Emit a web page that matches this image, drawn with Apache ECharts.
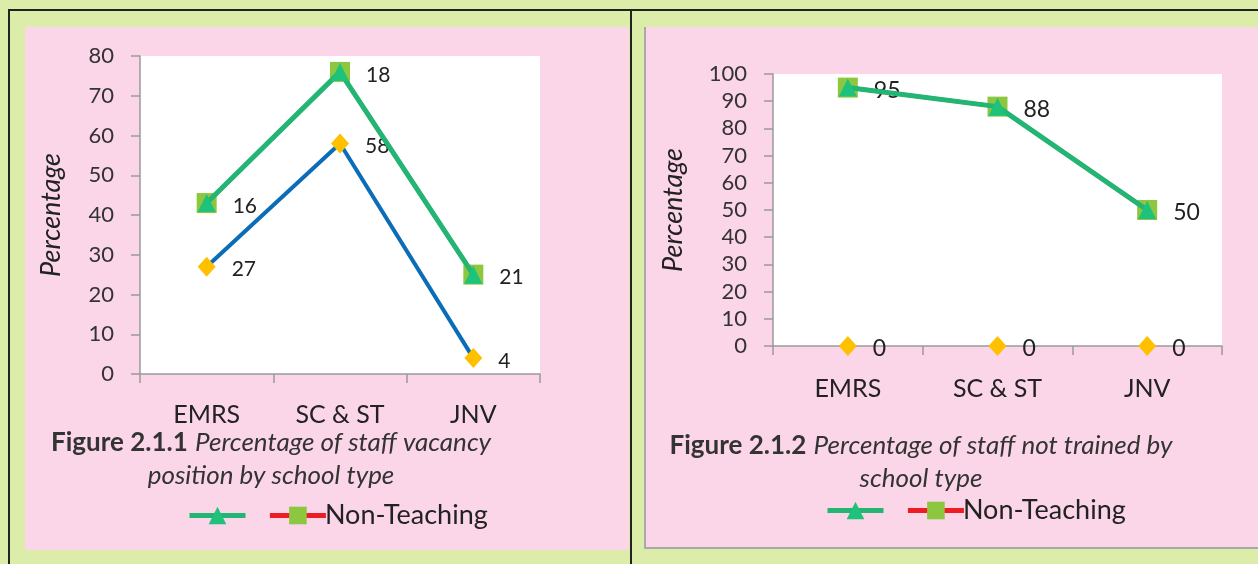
<!DOCTYPE html>
<html>
<head>
<meta charset="utf-8">
<script src="https://cdn.jsdelivr.net/npm/echarts@6/dist/echarts.min.js"></script>
<style>
  html, body { margin: 0; padding: 0; }
  body { width: 1258px; height: 564px; position: relative; background: #dcedaa; overflow: hidden; }
  .bd { position: absolute; background: #222; }
  .pink { position: absolute; background: #fad6e8; }
  #chart { position: absolute; left: 0; top: 0; width: 1258px; height: 564px; }
</style>
</head>
<body>
<div class="bd" style="left:8px;top:9px;width:1250px;height:1.5px;"></div>
<div class="bd" style="left:8px;top:9px;width:1.5px;height:555px;"></div>
<div class="bd" style="left:630px;top:9px;width:1.5px;height:555px;"></div>
<div class="pink" style="left:25px;top:27px;width:604px;height:523px;"></div>
<div style="position:absolute;left:644px;top:27px;width:614px;height:522px;background:#a9a9a9;"></div>
<div class="pink" style="left:646px;top:27px;width:612px;height:520px;"></div>
<div id="chart"></div>
<script>
// ---- data ----
const categories = ['EMRS', 'SC & ST', 'JNV'];
const fig1Teaching = [27, 58, 4];
const fig1NonTeaching = [16, 18, 21];
const fig1Unnamed = [0, 0, 0];
const fig2Teaching = [0, 0, 0];
const fig2NonTeaching = [95, 88, 50];
const fig2Unnamed = [0, 0, 0];
const fig1YTicks = { min: 0, max: 80, interval: 10 };
const fig2YTicks = { min: 0, max: 100, interval: 10 };
const fig1Caption = ['Figure 2.1.1', 'Percentage of staff vacancy', 'position by school type'];
const fig2Caption = ['Figure 2.1.2', 'Percentage of staff not trained by', 'school type'];
const legendNames = [' ', 'Non-Teaching'];

const FONT = 'Lato, "Open Sans", sans-serif';
const GREEN = '#22b573';
const BLUE = '#0b6cb8';
const YELLOW = '#ffc000';
const LIME = '#8dc63f';
const TRI = '#1ec27a';
const RED = '#ee1c25';

const chart = echarts.init(document.getElementById('chart'), null, { renderer: 'canvas' });

function yAxis(idx, t, nameGap) {
  return {
    type: 'value', gridIndex: idx, min: t.min, max: t.max, interval: t.interval,
    name: 'Percentage', nameLocation: 'middle', nameGap: nameGap,
    nameTextStyle: { fontFamily: FONT, fontStyle: 'italic', fontSize: 27, color: '#222' },
    axisLine: { show: true, lineStyle: { color: '#9a9a9a', width: 1.5 } },
    axisTick: { show: true, length: 9, lineStyle: { color: '#9a9a9a', width: 1.5 } },
    splitLine: { show: false },
    axisLabel: { fontFamily: FONT, fontSize: 22, color: '#333', margin: 26 }
  };
}
function xAxis(idx, margin) {
  return {
    type: 'category', gridIndex: idx, data: categories, boundaryGap: true,
    axisLine: { show: true, lineStyle: { color: '#9a9a9a', width: 1.5 } },
    axisTick: { show: true, length: 9, alignWithLabel: false, lineStyle: { color: '#9a9a9a', width: 1.5 } },
    axisLabel: { fontFamily: FONT, fontSize: 25, color: '#222', margin: margin }
  };
}
function labelStyle(size) {
  return { show: true, position: 'right', distance: 16, fontFamily: FONT, fontSize: size, color: '#222', offset: [0, 3] };
}

function seriesFor(idx, teach, nonTeach, unnamed, hideTeachLine, lblSize) {
  return [
    {
      name: 'Teaching', type: 'line', xAxisIndex: idx, yAxisIndex: idx, stack: 's' + idx,
      data: teach, symbol: 'diamond', symbolSize: [18, 20], z: 2,
      lineStyle: { color: BLUE, width: 4, opacity: hideTeachLine ? 0 : 1 },
      itemStyle: { color: YELLOW },
      label: labelStyle(lblSize)
    },
    {
      name: 'Non-Teaching', type: 'line', xAxisIndex: idx, yAxisIndex: idx, stack: 's' + idx,
      data: nonTeach, symbol: 'rect', symbolSize: 20, z: 3,
      lineStyle: { color: RED, width: 4 },
      itemStyle: { color: LIME },
      label: labelStyle(lblSize)
    },
    {
      name: ' ', type: 'line', xAxisIndex: idx, yAxisIndex: idx, stack: 's' + idx,
      data: unnamed, symbol: 'triangle', symbolSize: [18, 18], z: 4,
      lineStyle: { color: GREEN, width: 5 },
      itemStyle: { color: TRI },
      label: { show: false }
    }
  ];
}

function caption(c, cx, top) {
  return [
    {
      text: '{b|' + c[0] + '} {i|' + c[1] + '}', left: cx, top: top, textAlign: 'center', padding: 0,
      textStyle: { fontWeight: 'normal', fontSize: 26, rich: {
        b: { fontFamily: FONT, fontWeight: 'bold', fontStyle: 'normal', fontSize: 26, color: '#333' },
        i: { fontFamily: FONT, fontWeight: 'normal', fontStyle: 'italic', fontSize: 26, color: '#333' }
      } }
    },
    {
      text: c[2], left: cx, top: top + 33, textAlign: 'center', padding: 0,
      textStyle: { fontFamily: FONT, fontStyle: 'italic', fontWeight: 'normal', fontSize: 26, color: '#333' }
    }
  ];
}

function legend(left, top) {
  return {
    left: left, top: top, padding: 0, itemWidth: 56, itemHeight: 22, itemGap: 16,
    selectedMode: false, data: legendNames,
    lineStyle: { width: 5 },
    textStyle: { fontFamily: FONT, fontSize: 27, color: '#222', padding: [0, 0, 0, -6] }
  };
}

const option = {
  animation: false,
  backgroundColor: 'transparent',
  grid: [
    { left: 140, top: 56, width: 400, height: 318, show: true, backgroundColor: '#fff', borderWidth: 0 },
    { left: 773, top: 74, width: 449, height: 272, show: true, backgroundColor: '#fff', borderWidth: 0 }
  ],
  xAxis: [xAxis(0, 28), xAxis(1, 30)],
  yAxis: [yAxis(0, fig1YTicks, 75), yAxis(1, fig2YTicks, 86)],
  title: caption(fig1Caption, 271, 430).concat(caption(fig2Caption, 921, 433)),
  legend: [legend(187, 502), legend(825, 497)],
  series: seriesFor(0, fig1Teaching, fig1NonTeaching, fig1Unnamed, false, 21)
    .concat(seriesFor(1, fig2Teaching, fig2NonTeaching, fig2Unnamed, true, 23))
};
chart.setOption(option);
</script>
</body>
</html>
